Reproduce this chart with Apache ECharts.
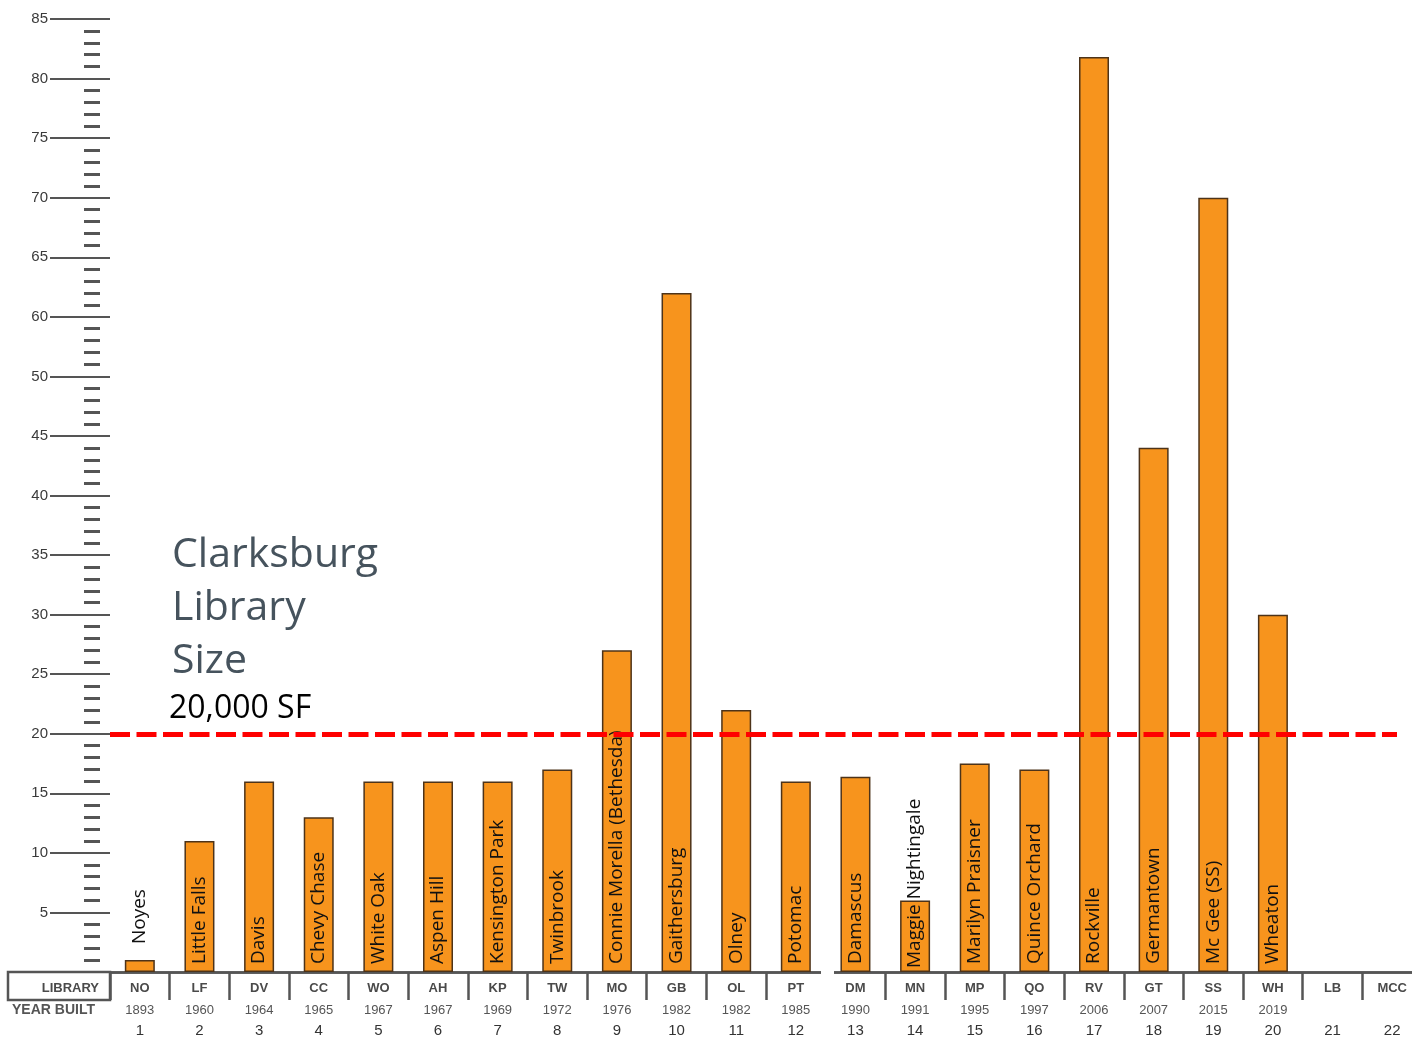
<!DOCTYPE html>
<html>
<head>
  <meta charset="utf-8">
  <title>Clarksburg Library Size</title>
  <script src="https://cdn.jsdelivr.net/npm/echarts@6/dist/echarts.min.js"></script>
  <style>
    html, body { margin: 0; padding: 0; background: #fff; }
    #main { width: 1412px; height: 1041px; }
  </style>
</head>
<body>
  <div id="main"></div>
  <script type="text/javascript">
    // library codes (table row), names written in the bars, year built and row numbers
    var codes = ['NO', 'LF', 'DV', 'CC', 'WO', 'AH', 'KP', 'TW', 'MO', 'GB', 'OL',
                 'PT', 'DM', 'MN', 'MP', 'QO', 'RV', 'GT', 'SS', 'WH', 'LB', 'MCC'];
    var names = ['Noyes', 'Little Falls', 'Davis', 'Chevy Chase', 'White Oak', 'Aspen Hill',
                 'Kensington Park', 'Twinbrook', 'Connie Morella (Bethesda)', 'Gaithersburg',
                 'Olney', 'Potomac', 'Damascus', 'Maggie Nightingale', 'Marilyn Praisner',
                 'Quince Orchard', 'Rockville', 'Germantown', 'Mc Gee (SS)', 'Wheaton', '', ''];
    var years = ['1893', '1960', '1964', '1965', '1967', '1967', '1969', '1972', '1976', '1982',
                 '1982', '1985', '1990', '1991', '1995', '1997', '2006', '2007', '2015', '2019', '', ''];
    var rowNums = ['1', '2', '3', '4', '5', '6', '7', '8', '9', '10', '11',
                   '12', '13', '14', '15', '16', '17', '18', '19', '20', '21', '22'];
    // bar heights, read against the drawn (evenly spaced) scale
    var sizes = [1, 11, 16, 13, 16, 16, 16, 17, 27, 57, 22,
                 16, 16.4, 6, 17.5, 17, 76.8, 44, 65, 30, null, null];
    // the printed scale skips 55, so ticks above 50 read 5 higher
    var yTickLabels = ['', '5', '10', '15', '20', '25', '30', '35', '40', '45', '50',
                       '60', '65', '70', '75', '80', '85'];
    var target = 20;

    var chart = echarts.init(document.getElementById('main'));

    var barData = [];
    for (var i = 0; i < sizes.length; i++) {
      var item = { value: sizes[i], label: { formatter: names[i] } };
      if (sizes[i] !== null && sizes[i] < 3) {
        item.label.position = 'top';
        item.label.distance = 16;
      }
      if (names[i] === 'Maggie Nightingale') item.label.distance = 4;
      barData.push(item);
    }

    var tableFont = '"Liberation Sans Narrow", "Liberation Sans", sans-serif';

    var option = {
      animation: false,
      backgroundColor: '#ffffff',
      grid: { left: 110, right: -10, top: 19, bottom: 69, containLabel: false, outerBoundsMode: 'none' },
      xAxis: [
        {
          type: 'category',
          data: codes,
          position: 'bottom',
          axisLine: { show: true, lineStyle: { color: '#555', width: 2.5 } },
          axisTick: { show: true, interval: 0, length: 28, lineStyle: { color: '#555', width: 2.5 } },
          axisLabel: { interval: 0, margin: 10, fontSize: 13, fontWeight: 'bold', color: '#4a4a4a', fontFamily: tableFont },
          splitLine: { show: false }
        },
        {
          type: 'category',
          data: years,
          position: 'bottom',
          offset: 28,
          axisLine: { show: true, lineStyle: { color: '#555', width: 2.5 } },
          axisTick: { show: false },
          axisLabel: { interval: 0, margin: 4, fontSize: 13, color: '#555', fontFamily: tableFont }
        },
        {
          type: 'category',
          data: rowNums,
          position: 'bottom',
          offset: 48,
          axisLine: { show: false },
          axisTick: { show: false },
          axisLabel: { interval: 0, margin: 3, fontSize: 15, color: '#333', fontFamily: tableFont }
        }
      ],
      yAxis: [
        {
          type: 'value',
          min: 0,
          max: 80,
          interval: 5,
          position: 'left',
          axisLine: { show: false },
          axisTick: { show: true, length: 60, lineStyle: { color: '#555', width: 2 } },
          axisLabel: {
            margin: 62,
            fontSize: 15,
            color: '#3a3a3a',
            fontFamily: tableFont,
            formatter: function (v) { return yTickLabels[Math.round(v / 5)]; }
          },
          splitLine: { show: false }
        },
        {
          type: 'value',
          min: 0,
          max: 80,
          interval: 5,
          position: 'left',
          offset: 10,
          axisLine: { show: false },
          axisTick: { show: false },
          axisLabel: { show: false },
          minorTick: { show: true, splitNumber: 5, length: 16, lineStyle: { color: '#555', width: 3 } },
          splitLine: { show: false }
        }
      ],
      series: [
        {
          type: 'bar',
          xAxisIndex: 0,
          yAxisIndex: 0,
          data: barData,
          barWidth: 30,
          itemStyle: { color: '#F7941D', borderColor: '#4d3319', borderWidth: 1.5 },
          label: {
            show: true,
            position: 'insideBottom',
            distance: 8,
            rotate: 90,
            align: 'left',
            verticalAlign: 'middle',
            fontSize: 19,
            color: '#111',
            fontFamily: '"Open Sans", sans-serif'
          },
          markLine: {
            silent: true,
            symbol: 'none',
            label: { show: false },
            lineStyle: { color: '#ff0000', width: 5, type: [20, 6.5] },
            data: [[{ x: 110, yAxis: target }, { x: 1397, yAxis: target }]]
          }
        }
      ],
      graphic: [
        { type: 'rect', z: 100, shape: { x: 821, y: 962, width: 13, height: 79 }, style: { fill: '#ffffff' } },
        { type: 'rect', z: 100, shape: { x: 8, y: 972, width: 102, height: 28 }, style: { fill: 'none', stroke: '#555', lineWidth: 2.5 } },
        { type: 'text', z: 100, x: 99, y: 988, style: { text: 'LIBRARY', align: 'right', verticalAlign: 'middle', fontSize: 13, fontWeight: 'bold', fill: '#4a4a4a', fontFamily: tableFont } },
        { type: 'text', z: 100, x: 12, y: 1010, style: { text: 'YEAR BUILT', align: 'left', verticalAlign: 'middle', fontSize: 14, fontWeight: 'bold', fill: '#555', fontFamily: tableFont } },
        { type: 'text', z: 100, x: 172, y: 555, style: { text: 'Clarksburg', verticalAlign: 'middle', fontSize: 41, fill: '#46535d', fontFamily: '"Open Sans", sans-serif' } },
        { type: 'text', z: 100, x: 172, y: 608, style: { text: 'Library', verticalAlign: 'middle', fontSize: 41, fill: '#46535d', fontFamily: '"Open Sans", sans-serif' } },
        { type: 'text', z: 100, x: 172, y: 661, style: { text: 'Size', verticalAlign: 'middle', fontSize: 41, fill: '#46535d', fontFamily: '"Open Sans", sans-serif' } },
        { type: 'text', z: 100, x: 169, y: 709, style: { text: '20,000 SF', verticalAlign: 'middle', fontSize: 32, fill: '#000', fontFamily: '"Open Sans", sans-serif' } }
      ]
    };

    chart.setOption(option);
  </script>
</body>
</html>
